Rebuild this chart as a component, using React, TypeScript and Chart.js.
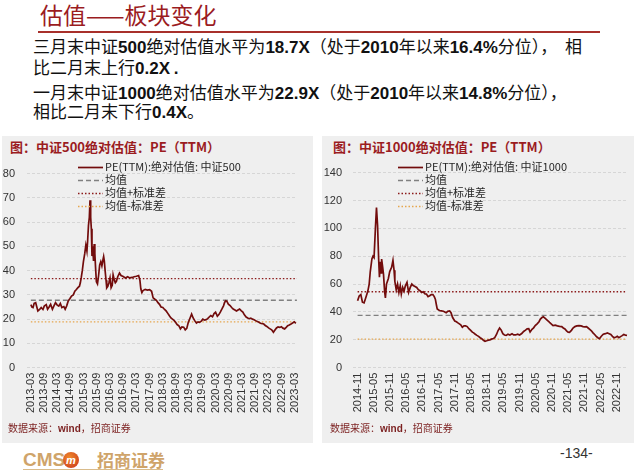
import React, { useEffect, useRef } from "react";
import { Chart, registerables } from "chart.js";

Chart.register(...registerables);

// ---------- 中证500 PE(TTM), x = months since 2013-03 ----------
const csi500Months = [
  0, 0.5, 1, 1.5, 2.2, 3.2, 4, 4.7, 5.5, 6.1,
  7, 7.6, 8.3, 9, 9.8, 10.5, 11.2, 12, 12.7, 13.4,
  14.1, 15, 15.6, 16.3, 17, 17.8, 18.5, 19.3, 20, 20.7,
  21.4, 22.1, 22.5, 22.9, 23.4, 23.9, 24.5, 25, 25.5, 25.8,
  26.2, 26.6, 26.9, 27.2, 27.5, 27.8, 28.1, 28.5, 28.8, 29.1,
  29.5, 29.8, 30.3, 30.8, 31.3, 31.8, 32.3, 32.8, 33.1, 33.4,
  33.8, 34.2, 34.5, 35, 35.5, 36, 36.5, 37, 37.4, 38,
  38.4, 38.9, 39.5, 40.3, 41, 42, 43, 44, 45, 46,
  47, 48, 49, 49.6, 50, 50.5, 51, 52, 53, 54,
  54.9, 55.6, 56.4, 57.1, 57.8, 58.5, 59.2, 60, 60.8, 61.5,
  62.2, 63, 63.7, 64.4, 65.1, 65.8, 66.5, 67.3, 68, 68.7,
  69.5, 70.2, 70.9, 71.6, 72.4, 73.1, 73.8, 74.5, 75.3, 76,
  76.7, 77.5, 78.2, 79, 79.7, 80.4, 81.1, 81.8, 82.6, 83.3,
  84, 84.8, 85.5, 86.2, 86.9, 87.6, 88.1, 88.6, 89.1, 89.8,
  90.6, 91.3, 92, 92.8, 93.5, 94.2, 94.9, 95.6, 96.4, 97.1,
  97.9, 98.6, 99.3, 100, 100.8, 101.5, 102.2, 103, 103.7, 104.4,
  105.2, 105.9, 106.6, 107.3, 108.1, 108.8, 109.5, 110.3, 111, 111.7,
  112.4, 113.2, 113.9, 114.6, 115.4, 116.1, 116.8, 117.5, 118.3, 119,
  119.8, 120.5,
];
const csi500PE = [
  26, 25, 24.8, 26.5, 26.8, 23.4, 24, 24.8, 24, 25.4,
  26, 24.1, 25, 26.1, 24.1, 25.5, 26.8, 25.8, 25.4, 26.5,
  24.8, 25.2, 24.1, 25.5, 27.5, 28.5, 29.5, 30, 31.5, 32.2,
  33, 33.6, 35, 37, 40, 43.7, 47, 50.5, 48, 51.9,
  58.6, 62, 69, 62, 57.3, 46, 50, 44, 51, 47,
  40, 35.4, 34.5, 38, 42.4, 43.7, 42, 44.5, 45.8, 44,
  39.7, 36, 32.9, 33.5, 35, 37, 33, 34, 38.3, 36,
  35, 35.6, 37.5, 39, 38, 37.6, 37, 37.5, 37, 37.2,
  37.5, 37.7, 38, 36, 32.5, 31, 31.8, 32.3, 32, 32.2,
  31.5, 28.8, 28.2, 27.8, 26.8, 26.1, 25, 24.8, 24, 23.4,
  22.5, 21.4, 20.5, 20, 19.5, 18.7, 17.8, 17.3, 16, 16.8,
  16.7, 15.6, 16.2, 18.7, 20.5, 22.1, 20.5, 19.4, 18.4, 18.9,
  18.7, 19.2, 20, 19.6, 19.8, 20.2, 20.9, 21.5, 21, 22.3,
  22.9, 21.2, 21.9, 23, 24.2, 25.5, 26.9, 27.6, 27.4, 26.2,
  25.6, 24.8, 24.2, 23.8, 23.4, 23.8, 24.2, 23.5, 22.9, 21.8,
  20.9, 20.5, 20.2, 20.4, 20, 19.8, 19.4, 19, 18.7, 18.3,
  18.2, 18, 17.4, 17, 16.4, 16, 15.6, 14.6, 15.5, 16.4,
  16.8, 16.6, 16.9, 16.3, 16, 16.6, 17.3, 17.6, 18, 18.4,
  18.9, 18.3,
];
const csi500Mean = 27.8;
const csi500Upper = 36.7;
const csi500Lower = 18.9;
const csi500TickLabels = [
  "2013-03", "2013-09", "2014-03", "2014-09", "2015-03", "2015-09", "2016-03",
  "2016-09", "2017-03", "2017-09", "2018-03", "2018-09", "2019-03", "2019-09",
  "2020-03", "2020-09", "2021-03", "2021-09", "2022-03", "2022-09", "2023-03",
];

// ---------- 中证1000 PE(TTM), x = months since 2014-11 ----------
const csi1000Months = [
  0, 0.6, 1.2, 1.8, 2.4, 3, 3.8, 4.3, 4.7, 5.3,
  5.7, 6.1, 6.6, 7, 7.4, 7.8, 8.1, 8.4, 8.7, 8.9,
  9.3, 9.6, 10, 10.3, 10.7, 11.4, 11.9, 12.6, 13.1, 13.5,
  13.8, 14.3, 14.8, 15.3, 15.8, 16.2, 16.7, 17.2, 17.7, 18.3,
  18.9, 19.5, 20.1, 20.6, 21.1, 21.9, 22.5, 23.1, 23.7, 24.3,
  24.9, 25.5, 26.1, 26.7, 27.3, 27.9, 28.4, 28.8, 29.2, 29.5,
  30.3, 31, 31.8, 32.8, 33.4, 34.1, 34.6, 35.2, 36, 36.6,
  37.3, 38.2, 38.8, 39.4, 40, 40.6, 41.2, 41.8, 42.5, 43,
  43.6, 44.2, 44.8, 45.4, 46, 46.6, 47.2, 47.8, 48.4, 49,
  49.6, 50.3, 50.8, 51.5, 52, 52.6, 53.2, 53.8, 54.4, 55,
  55.7, 56.4, 57.2, 57.8, 58.5, 59.3, 60, 60.8, 61.5, 62.2,
  62.8, 63.4, 63.9, 64.6, 65.2, 65.8, 66.5, 67.2, 67.7, 68.3,
  68.8, 69.4, 70, 70.6, 71.1, 71.8, 72.4, 73.2, 74, 74.8,
  75.6, 76.2, 76.8, 77.4, 78, 78.5, 79.2, 79.8, 80.5, 81.2,
  82, 82.8, 83.5, 84.2, 84.8, 85.4, 86, 86.6, 87.2, 87.8,
  88.4, 89, 89.6, 90.2, 91, 91.8, 92.5, 93.2, 93.8, 94.4,
  95, 95.6, 96.2, 96.8, 97.4, 98, 98.6, 99.2, 99.8,
];
const csi1000PE = [
  48, 51.5, 52.5, 47, 46.5, 50, 55, 60, 69, 78,
  80, 79, 100, 115, 102, 78, 65, 76, 68, 78,
  72, 67, 55, 50, 60, 64, 69, 72, 77, 70,
  62, 56, 60, 54, 58.8, 52.8, 57.6, 55, 58.8, 61.2,
  54, 57.6, 60, 59, 58.5, 57.6, 56, 55.2, 54, 54.5,
  53, 52.8, 51, 51.6, 52.5, 52.5, 51, 49.2, 45, 42.1,
  41, 40.8, 40.5, 39.5, 40.5, 40.8, 39.5, 36, 33.5, 33,
  32, 30.8, 29, 30, 30, 29.5, 28, 27, 25.5, 25,
  24, 23.2, 22.5, 21.5, 20.8, 19.7, 19, 19.3, 19.8, 20,
  20.5, 21, 21.5, 24, 26.5, 28.5, 27, 24.4, 23.5, 23.2,
  24, 23.5, 24.4, 23.5, 23.5, 24, 23.5, 24.5, 26, 27,
  27.9, 28, 25.6, 27.5, 28.6, 30.2, 31.5, 33, 34.9, 36,
  36.5, 35.5, 34.5, 33.5, 32.5, 31.3, 30.2, 30.5, 30, 29.7,
  29.5, 28.5, 27.8, 26.5, 25.5, 25.3, 26.8, 28.5, 29.5, 30,
  30.2, 30, 29.5, 29.3, 29.5, 28.5, 27.5, 26.5, 25, 23.8,
  22.5, 21.5, 20.8, 22.4, 24, 24.4, 24.9, 24.3, 23.8, 22.5,
  21.5, 21.8, 22.5, 21.5, 22.3, 23, 23.8, 23.4, 23.2,
];
const csi1000Mean = 37.5;
const csi1000Upper = 54.5;
const csi1000Lower = 20.5;
const csi1000TickLabels = [
  "2014-11", "2015-05", "2015-11", "2016-05", "2016-11", "2017-05", "2017-11",
  "2018-05", "2018-11", "2019-05", "2019-11", "2020-05", "2020-11", "2021-05",
  "2021-11", "2022-05", "2022-11",
];

const seriesNames500 = ["PE(TTM):绝对估值: 中证500", "均值", "均值+标准差", "均值-标准差"];
const seriesNames1000 = ["PE(TTM):绝对估值: 中证1000", "均值", "均值+标准差", "均值-标准差"];

const CJK = '"Noto Sans CJK SC", sans-serif';
const LATIN = '"Liberation Sans", Arial, "Noto Sans CJK SC", sans-serif';

type ChartProps = {
  months: number[];
  values: number[];
  mean: number;
  upper: number;
  lower: number;
  names: string[];
  tickLabels: string[];
  yMax: number;
  yStep: number;
  xMin: number;
  xMax: number;
  lineEnd: number;
  left: number;
  top: number;
  width: number;
  height: number;
  padTop: number;
  padRight: number;
  yAxisWidth: number;
  yLabelPad: number;
  xAxisHeight: number;
  legendX: number;
  legendY: number;
};

function PEChart(p: ChartProps) {
  const ref = useRef<HTMLCanvasElement>(null);
  useEffect(() => {
    const canvas = ref.current;
    if (!canvas) return;
    const legendPlugin = {
      id: "innerLegend",
      afterDraw(chart: any) {
        const ctx = chart.ctx as CanvasRenderingContext2D;
        ctx.save();
        chart.data.datasets.forEach((ds: any, i: number) => {
          const y = p.legendY + i * 13;
          ctx.strokeStyle = ds.borderColor;
          ctx.lineWidth = ds.borderWidth;
          ctx.setLineDash(ds.borderDash || []);
          ctx.beginPath();
          ctx.moveTo(p.legendX, y + 0.5);
          ctx.lineTo(p.legendX + 25, y + 0.5);
          ctx.stroke();
          ctx.setLineDash([]);
          ctx.fillStyle = "#262626";
          ctx.font = `11px ${CJK}`;
          ctx.textBaseline = "middle";
          ctx.textAlign = "left";
          ctx.fillText(ds.label, p.legendX + 27, y);
        });
        ctx.restore();
      },
    };
    const first = p.months[0];
    const flat = (v: number) => [
      { x: first, y: v },
      { x: p.lineEnd, y: v },
    ];
    const chart = new Chart(canvas, {
      type: "line",
      data: {
        datasets: [
          {
            label: p.names[0],
            data: p.months.map((m, i) => ({ x: m, y: p.values[i] })),
            borderColor: "#720c0c",
            borderWidth: 1.7,
            pointRadius: 0,
            tension: 0,
            order: 0,
          },
          {
            label: p.names[1],
            data: flat(p.mean),
            borderColor: "#808080",
            borderWidth: 1.3,
            borderDash: [5, 3],
            pointRadius: 0,
            order: 1,
          },
          {
            label: p.names[2],
            data: flat(p.upper),
            borderColor: "#8b1a1a",
            borderWidth: 1.3,
            borderDash: [1.5, 2],
            pointRadius: 0,
            order: 1,
          },
          {
            label: p.names[3],
            data: flat(p.lower),
            borderColor: "#e6a64e",
            borderWidth: 1.3,
            borderDash: [1.5, 2],
            pointRadius: 0,
            order: 1,
          },
        ],
      },
      options: {
        animation: false,
        responsive: false,
        maintainAspectRatio: false,
        layout: { padding: { top: p.padTop, right: p.padRight, left: 0, bottom: 0 } },
        plugins: { legend: { display: false }, tooltip: { enabled: false } },
        scales: {
          x: {
            type: "linear",
            min: p.xMin,
            max: p.xMax,
            grid: { display: false, drawTicks: false, tickLength: 0 },
            border: { display: false },
            afterBuildTicks: (scale: any) => {
              scale.ticks = p.tickLabels.map((_, i) => ({ value: i * 6 }));
            },
            afterFit: (scale: any) => {
              scale.height = p.xAxisHeight;
            },
            ticks: {
              autoSkip: false,
              maxRotation: 90,
              minRotation: 90,
              padding: 5,
              color: "#333333",
              font: { size: 11, family: LATIN },
              callback: (v: any) => {
                const idx = Math.round(Number(v) / 6);
                return p.tickLabels[idx] ?? "";
              },
            },
          },
          y: {
            min: 0,
            max: p.yMax,
            grid: { color: "#d6d6d6", lineWidth: 1, drawTicks: false, tickLength: 0 },
            border: { display: false, dash: [3, 2] },
            afterFit: (scale: any) => {
              scale.width = p.yAxisWidth;
            },
            ticks: {
              stepSize: p.yStep,
              padding: p.yLabelPad,
              color: "#333333",
              font: { size: 11, family: LATIN },
            },
          },
        },
      },
      plugins: [legendPlugin],
    } as any);
    return () => chart.destroy();
  }, []);
  return (
    <canvas
      ref={ref}
      width={p.width}
      height={p.height}
      style={{ position: "absolute", left: p.left, top: p.top, width: p.width, height: p.height }}
    />
  );
}

function Rich({ text }: { text: string }) {
  const parts = text.split(/([0-9.X%]+)/);
  return (
    <>
      {parts.map((s, i) =>
        /[0-9.X%]/.test(s) ? (
          <b key={i} style={{ fontFamily: LATIN, fontWeight: 700 }}>
            {s}
          </b>
        ) : (
          <span key={i}>{s}</span>
        )
      )}
    </>
  );
}

const bodyLines = [
  { text: "三月末中证500绝对估值水平为18.7X（处于2010年以来16.4%分位），  相", top: 36 },
  { text: "比二月末上行0.2X .", top: 57 },
  { text: "一月末中证1000绝对估值水平为22.9X（处于2010年以来14.8%分位），", top: 82 },
  { text: "相比二月末下行0.4X。", top: 101 },
];

export default function App() {
  const abs = (o: React.CSSProperties): React.CSSProperties => ({ position: "absolute", ...o });
  return (
    <div
      style={{
        position: "fixed",
        left: 0,
        top: 0,
        width: 640,
        height: 471,
        background: "#ffffff",
        overflow: "hidden",
        fontFamily: CJK,
      }}
    >
      <div style={abs({ left: 40, top: 2, fontSize: 23, lineHeight: "25px", color: "#9b1c1f", whiteSpace: "nowrap" })}>
        估值——板块变化
      </div>
      <div style={abs({ left: 38, top: 31, width: 562, height: 1.5, background: "#a8302b" })} />
      {bodyLines.map((l, i) => (
        <div
          key={i}
          style={abs({ left: 33, top: l.top, fontSize: 17, lineHeight: "20px", color: "#111", whiteSpace: "pre" })}
        >
          <Rich text={l.text} />
        </div>
      ))}

      <div style={abs({ left: 2, top: 136, width: 311, height: 307, background: "#efefef" })} />
      <div style={abs({ left: 322, top: 136, width: 312, height: 307, background: "#efefef" })} />

      <div style={abs({ left: 10, top: 139, fontSize: 13, lineHeight: "16px", color: "#9b1c1f", fontWeight: 700, whiteSpace: "nowrap" })}>
        图：中证500绝对估值：PE（TTM）
      </div>
      <div style={abs({ left: 333, top: 139, fontSize: 13, lineHeight: "16px", color: "#9b1c1f", fontWeight: 700, whiteSpace: "nowrap" })}>
        图：中证1000绝对估值：PE（TTM）
      </div>

      <PEChart
        months={csi500Months}
        values={csi500PE}
        mean={csi500Mean}
        upper={csi500Upper}
        lower={csi500Lower}
        names={seriesNames500}
        tickLabels={csi500TickLabels}
        yMax={80}
        yStep={10}
        xMin={-1.75}
        xMax={121}
        lineEnd={121}
        left={0}
        top={155}
        width={313}
        height={270}
        padTop={16}
        padRight={5}
        yAxisWidth={27}
        yLabelPad={12}
        xAxisHeight={57.3}
        legendX={78}
        legendY={12}
      />
      <PEChart
        months={csi1000Months}
        values={csi1000PE}
        mean={csi1000Mean}
        upper={csi1000Upper}
        lower={csi1000Lower}
        names={seriesNames1000}
        tickLabels={csi1000TickLabels}
        yMax={140}
        yStep={20}
        xMin={-1.7}
        xMax={100}
        lineEnd={99.8}
        left={321}
        top={155}
        width={314}
        height={270}
        padTop={16}
        padRight={1}
        yAxisWidth={32}
        yLabelPad={11}
        xAxisHeight={57.3}
        legendX={77}
        legendY={12}
      />

      <div style={abs({ left: 8, top: 422, fontSize: 10, lineHeight: "12px", color: "#7b1f1f", whiteSpace: "nowrap" })}>
        数据来源：<b style={{ fontFamily: LATIN }}>wind</b>，招商证券
      </div>
      <div style={abs({ left: 330, top: 422, fontSize: 10, lineHeight: "12px", color: "#7b1f1f", whiteSpace: "nowrap" })}>
        数据来源：<b style={{ fontFamily: LATIN }}>wind</b>，招商证券
      </div>

      <div style={abs({ left: 23, top: 449, fontSize: 19, lineHeight: "22px", color: "#cfa46a", fontWeight: 700, fontFamily: LATIN })}>
        CMS
      </div>
      <div
        style={abs({
          left: 63,
          top: 452,
          width: 16,
          height: 16,
          borderRadius: 8,
          background: "radial-gradient(circle at 40% 35%, #f08a2a, #c8321c)",
          color: "#fff",
          fontSize: 11,
          lineHeight: "16px",
          textAlign: "center",
          fontStyle: "italic",
          fontWeight: 700,
          fontFamily: LATIN,
        })}
      >
        m
      </div>
      <div style={abs({ left: 97, top: 449, fontSize: 17, lineHeight: "22px", color: "#cfa46a", fontWeight: 700 })}>
        招商证券
      </div>
      <div style={abs({ left: 23, top: 469, width: 140, height: 1, background: "#d9bb8a" })} />

      <div style={abs({ left: 560, top: 445, fontSize: 14, lineHeight: "16px", color: "#333", fontFamily: LATIN })}>
        -134-
      </div>
    </div>
  );
}
